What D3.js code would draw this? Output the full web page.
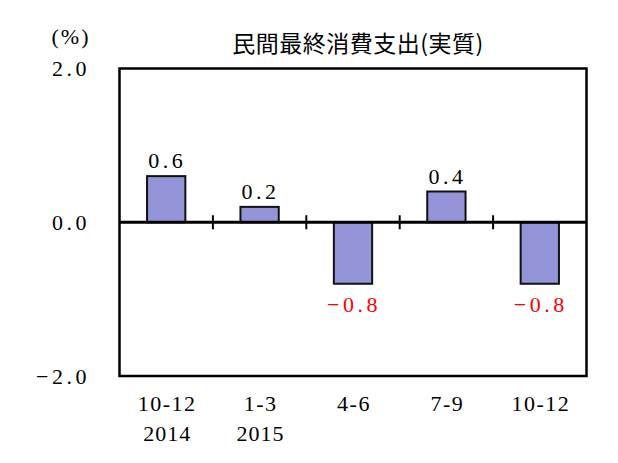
<!DOCTYPE html>
<html><head><meta charset="utf-8">
<script src="https://cdn.jsdelivr.net/npm/d3@7"></script>
<style>html,body{margin:0;padding:0;background:#fff;}</style>
</head><body>
<svg id="c" width="618" height="463"></svg>
<script>
const categories = ["10-12", "1-3", "4-6", "7-9", "10-12"];
const years = ["2014", "2015", "", "", ""];
const values = [0.6, 0.2, -0.8, 0.4, -0.8];
const yTicks = [2.0, 0.0, -2.0];
const title = "民間最終消費支出(実質)";
const unit = "(%)";

const svg = d3.select("#c");
const L = 119.5, R = 586.5, T = 68.5, B = 376;
const x = d3.scaleBand().domain(d3.range(categories.length)).range([L, R]).paddingInner(0).paddingOuter(0);
const y = d3.scaleLinear().domain([-2, 2]).range([B, T]);
const serif = "'Liberation Serif','DejaVu Serif',serif";
const cjk = "'Noto Sans CJK JP','Noto Sans CJK SC',sans-serif";
const fmt = d3.format(".1f");
const FS = 22;

// bars
const bw = x.bandwidth() * 0.41;
svg.append("g").selectAll("rect").data(values).join("rect")
  .attr("x", (d,i) => x(i) + x.bandwidth()/2 - bw/2)
  .attr("y", d => y(Math.max(0, d)))
  .attr("width", bw)
  .attr("height", d => Math.abs(y(d) - y(0)))
  .attr("fill", "#9494d8")
  .attr("stroke", "#111")
  .attr("stroke-width", 2);

// frame
svg.append("rect").attr("x", L).attr("y", T).attr("width", R-L).attr("height", B-T)
  .attr("fill", "none").attr("stroke", "#000").attr("stroke-width", 2.5);

// zero line
svg.append("line").attr("x1", L).attr("x2", R).attr("y1", y(0)).attr("y2", y(0))
  .attr("stroke", "#000").attr("stroke-width", 3);

// category separators ticks on zero line
svg.append("g").selectAll("line").data(d3.range(1, categories.length)).join("line")
  .attr("x1", i => x(i)).attr("x2", i => x(i))
  .attr("y1", y(0) - 7).attr("y2", y(0) + 7)
  .attr("stroke", "#000").attr("stroke-width", 2);

// y tick labels
svg.append("g").selectAll("text").data(yTicks).join("text")
  .attr("x", 90).attr("y", d => y(d))
  .attr("dy", "0.35em")
  .attr("text-anchor", "end")
  .attr("font-family", serif).attr("font-size", FS)
  .attr("letter-spacing", 3.5)
  .text(fmt);

// x labels
svg.append("g").selectAll("text").data(categories).join("text")
  .attr("x", (d,i) => x(i) + x.bandwidth()/2 + 1).attr("y", 411)
  .attr("text-anchor", "middle")
  .attr("font-family", serif).attr("font-size", FS)
  .attr("letter-spacing", 1.5)
  .text(d => d);
svg.append("g").selectAll("text").data(years).join("text")
  .attr("x", (d,i) => x(i) + x.bandwidth()/2 + 1).attr("y", 441)
  .attr("text-anchor", "middle")
  .attr("font-family", serif).attr("font-size", FS)
  .attr("letter-spacing", 1)
  .text(d => d);

// value labels
svg.append("g").selectAll("text").data(values).join("text")
  .attr("x", (d,i) => x(i) + x.bandwidth()/2 + 1)
  .attr("y", d => d >= 0 ? y(d) - 8 : y(d) + 28)
  .attr("text-anchor", "middle")
  .attr("font-family", serif).attr("font-size", FS)
  .attr("letter-spacing", 3.5)
  .attr("fill", d => d < 0 ? "#ff0000" : "#000")
  .text(fmt);

// unit
svg.append("text").attr("x", 71).attr("y", 44).attr("text-anchor", "middle")
  .attr("font-family", serif).attr("font-size", FS)
  .attr("letter-spacing", 2).text(unit);

// title
svg.append("text").attr("x", 358).attr("y", 52).attr("text-anchor", "middle")
  .attr("font-family", cjk).attr("font-size", 23).attr("letter-spacing", 0.5).text(title);
</script>
</body></html>
